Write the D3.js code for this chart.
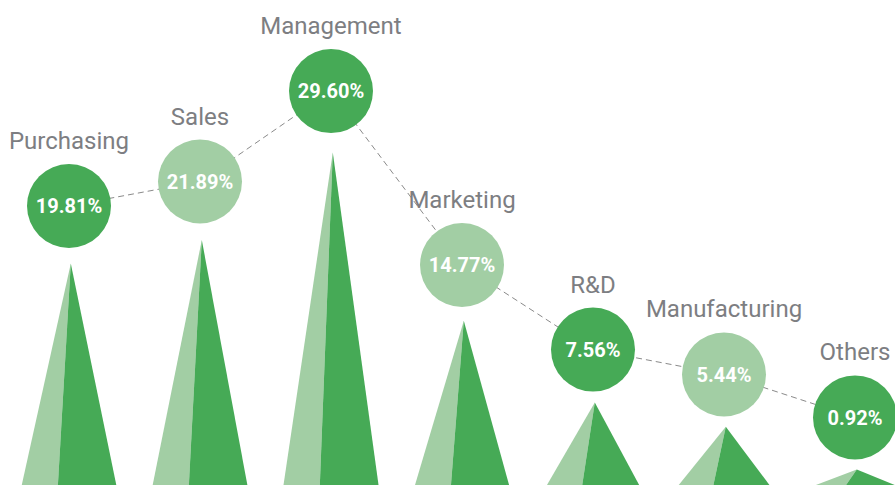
<!DOCTYPE html>
<html>
<head>
<meta charset="utf-8">
<script src="https://cdn.jsdelivr.net/npm/d3@7"></script>
<style>
  html, body { margin: 0; padding: 0; background: #fff; }
  svg { display: block; }
</style>
</head>
<body>
<svg id="chart" width="895" height="485"></svg>
<script>
const categories = ["Purchasing", "Sales", "Management", "Marketing", "R&D", "Manufacturing", "Others"];
const values = [19.81, 21.89, 29.60, 14.77, 7.56, 5.44, 0.92];
const valueLabels = ["19.81%", "21.89%", "29.60%", "14.77%", "7.56%", "5.44%", "0.92%"];
const circleShade = ["dark", "light", "dark", "light", "dark", "light", "dark"];

const DARK = "#46AA56";
const LIGHT = "#A2CEA4";
const TEXT = "#7d7e82";

const W = 895, H = 485;
const svg = d3.select("#chart");

const x = d3.scalePoint().domain(categories).range([69, 855]);
// cone heights
const y = d3.scaleLinear().domain([0, 30]).range([488.4, 147.9]);
// bubble (circle) centres
const yc = d3.scaleLinear().domain([0, 30]).range([438.3, 86.4]);

const base = y(0);
const minConeH = 17;
const halfBase = 48, apexShift = 1.8, splitShift = -11.3;
const r = 42;

const data = categories.map((c, i) => {
  const cx = x(c);
  const top = Math.min(y(values[i]), base - minConeH - 2);
  const cy = Math.min(yc(values[i]), top - 52);
  return { c, v: values[i], label: valueLabels[i], shade: circleShade[i], cx, top, cy };
});

// cones
const cones = svg.append("g");
data.forEach(d => {
  const apex = [d.cx + apexShift, d.top];
  const left = [d.cx - halfBase, base];
  const split = [d.cx + splitShift, base];
  const right = [d.cx + halfBase, base];
  cones.append("path")
    .attr("d", d3.line()([apex, left, split]) + "Z")
    .attr("fill", LIGHT);
  cones.append("path")
    .attr("d", d3.line()([apex, split, right]) + "Z")
    .attr("fill", DARK);
});

// dashed connector
svg.append("path")
  .attr("d", d3.line().x(d => d.cx).y(d => d.cy)(data))
  .attr("fill", "none")
  .attr("stroke", "#8a8a8a")
  .attr("stroke-width", 1)
  .attr("stroke-dasharray", "6,4");

// circles
const g = svg.append("g");
g.selectAll("circle").data(data).join("circle")
  .attr("cx", d => d.cx)
  .attr("cy", d => d.cy)
  .attr("r", r)
  .attr("fill", d => d.shade === "dark" ? DARK : LIGHT);

g.selectAll("text.val").data(data).join("text")
  .attr("class", "val")
  .attr("x", d => d.cx)
  .attr("y", d => d.cy)
  .attr("dy", "0.36em")
  .attr("text-anchor", "middle")
  .attr("fill", "#fff")
  .attr("font-family", "Roboto, 'Noto Sans', sans-serif")
  .attr("font-weight", 700)
  .attr("font-size", 20)
  .text(d => d.label);

g.selectAll("text.cat").data(data).join("text")
  .attr("class", "cat")
  .attr("x", d => d.cx)
  .attr("y", d => d.cy - r - 15)
  .attr("text-anchor", "middle")
  .attr("fill", TEXT)
  .attr("font-family", "Roboto, 'Noto Sans', sans-serif")
  .attr("font-size", 24)
  .text(d => d.c);
</script>
</body>
</html>
